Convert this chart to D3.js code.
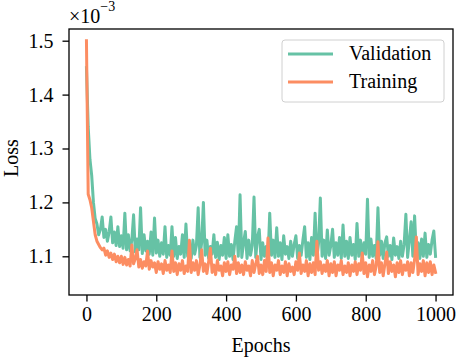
<!DOCTYPE html>
<html><head><meta charset="utf-8">
<script src="https://cdn.jsdelivr.net/npm/d3@7"></script>
<style>body{margin:0;background:#fff}svg{display:block}text{font-family:"Liberation Serif","Times New Roman",serif;fill:#000}</style>
</head><body><svg id="c" width="457" height="357"></svg>
<script>
// epochs sampled every 5 epochs, 0..1000
const epochStep = 5;
const xTicks = [0, 200, 400, 600, 800, 1000];
const yTicks = [1.1, 1.2, 1.3, 1.4, 1.5];
const seriesNames = ["Validation", "Training"];
const seriesColors = ["#66c2a5", "#fc8d62"];
// values in units of 1e-3
const validation = [
1.450,1.340,1.280,1.250,1.200,1.170,1.160,1.140,1.150,1.173,
1.135,1.150,1.128,1.145,1.173,1.125,1.145,1.120,1.155,1.118,
1.138,1.115,1.180,1.112,1.140,1.110,1.130,1.177,1.108,1.132,
1.112,1.190,1.105,1.140,1.110,1.128,1.104,1.145,1.102,1.171,
1.106,1.130,1.100,1.125,1.104,1.155,1.098,1.120,1.102,1.155,
1.100,1.135,1.096,1.118,1.104,1.140,1.098,1.160,1.100,1.125,
1.096,1.130,1.104,1.120,1.190,1.098,1.125,1.200,1.102,1.130,
1.096,1.118,1.104,1.140,1.098,1.126,1.094,1.120,1.102,1.135,
1.096,1.140,1.100,1.122,1.094,1.128,1.155,1.100,1.214,1.098,
1.125,1.146,1.096,1.130,1.102,1.120,1.210,1.098,1.135,1.150,
1.094,1.125,1.100,1.118,1.096,1.180,1.102,1.130,1.098,1.153,
1.100,1.125,1.094,1.138,1.104,1.118,1.096,1.128,1.100,1.122,
1.138,1.096,1.120,1.102,1.130,1.155,1.098,1.125,1.094,1.135,
1.102,1.180,1.098,1.125,1.208,1.100,1.130,1.096,1.149,1.102,
1.120,1.150,1.098,1.125,1.102,1.135,1.096,1.158,1.100,1.128,
1.096,1.135,1.102,1.122,1.094,1.161,1.100,1.130,1.096,1.125,
1.104,1.206,1.098,1.132,1.100,1.120,1.096,1.190,1.102,1.128,
1.096,1.125,1.136,1.100,1.120,1.094,1.134,1.102,1.118,1.096,
1.128,1.100,1.122,1.178,1.098,1.130,1.164,1.100,1.175,1.104,
1.125,1.096,1.132,1.100,1.143,1.098,1.122,1.104,1.130,1.147,
1.100];
const training = [
1.500,1.215,1.205,1.190,1.165,1.140,1.128,1.122,1.116,1.112,
1.115,1.102,1.110,1.098,1.106,1.094,1.104,1.090,1.100,1.088,
1.100,1.085,1.098,1.084,1.094,1.082,1.121,1.086,1.096,1.112,
1.080,1.094,1.078,1.090,1.082,1.110,1.076,1.092,1.080,1.088,
1.070,1.090,1.076,1.086,1.068,1.092,1.074,1.084,1.070,1.110,
1.072,1.088,1.066,1.086,1.074,1.092,1.068,1.082,1.072,1.130,
1.070,1.088,1.074,1.092,1.066,1.084,1.112,1.072,1.086,1.068,
1.090,1.115,1.070,1.084,1.066,1.092,1.074,1.082,1.064,1.088,
1.072,1.090,1.066,1.084,1.076,1.100,1.068,1.088,1.070,1.084,
1.066,1.090,1.074,1.082,1.064,1.092,1.070,1.086,1.100,1.068,
1.084,1.066,1.092,1.072,1.134,1.070,1.088,1.064,1.084,1.074,
1.092,1.066,1.082,1.070,1.090,1.064,1.086,1.072,1.080,1.066,
1.090,1.074,1.106,1.068,1.084,1.072,1.092,1.064,1.086,1.070,
1.088,1.066,1.128,1.074,1.090,1.068,1.084,1.072,1.092,1.064,
1.086,1.070,1.090,1.064,1.084,1.074,1.092,1.066,1.082,1.070,
1.088,1.064,1.084,1.072,1.090,1.066,1.086,1.074,1.106,1.068,
1.088,1.062,1.084,1.072,1.092,1.066,1.082,1.127,1.070,1.088,
1.064,1.086,1.108,1.068,1.090,1.072,1.084,1.062,1.088,1.070,
1.092,1.066,1.084,1.074,1.090,1.064,1.088,1.070,1.094,1.136,
1.066,1.086,1.072,1.092,1.064,1.088,1.070,1.090,1.066,1.084,
1.070];

const svg = d3.select("#c");
const L = 69, R = 453, T = 29, B = 295;
const x = d3.scaleLinear().domain([-50, 1050]).range([L, R]);
const y = d3.scaleLinear().domain([1.0282, 1.5217]).range([B, T]);
const FS = 20;

const line = d3.line().x((d, i) => x(i * epochStep)).y(d => y(d));
svg.append("clipPath").attr("id", "pc").append("rect")
  .attr("x", L).attr("y", T).attr("width", R - L).attr("height", B - T);
const g = svg.append("g").attr("clip-path", "url(#pc)");
[validation, training].forEach((s, k) => {
  g.append("path").datum(s).attr("d", line).attr("fill", "none")
    .attr("stroke", seriesColors[k]).attr("stroke-width", 3)
    .attr("stroke-linejoin", "round").attr("stroke-linecap", "square");
});

const xAxis = svg.append("g").attr("transform", `translate(0,${B})`)
  .call(d3.axisBottom(x).tickValues(xTicks).tickSize(6.5).tickPadding(5).tickFormat(d3.format("d")));
const yAxis = svg.append("g").attr("transform", `translate(${L},0)`)
  .call(d3.axisLeft(y).tickValues(yTicks).tickSize(6.5).tickPadding(9).tickFormat(d3.format(".1f")));
[xAxis, yAxis].forEach(a => {
  a.select(".domain").remove();
  a.selectAll(".tick line").attr("stroke", "#000").attr("stroke-width", 1.3);
  a.selectAll(".tick text").attr("font-size", FS).attr("font-family", "Liberation Serif");
});
svg.append("rect").attr("x", L).attr("y", T).attr("width", R - L).attr("height", B - T)
  .attr("fill", "none").attr("stroke", "#000").attr("stroke-width", 1.3);

// multiplier
const m = svg.append("text").attr("x", L).attr("y", 23).attr("font-size", FS);
m.append("tspan").text("×10");
m.append("tspan").attr("dy", -12).attr("font-size", 14).text("−3");

svg.append("text").attr("x", 261).attr("y", 352).attr("text-anchor", "middle")
  .attr("font-size", FS).text("Epochs");
svg.append("text").attr("transform", `translate(17.5,158) rotate(-90)`)
  .attr("text-anchor", "middle").attr("font-size", FS).text("Loss");

// legend
const lg = svg.append("g");
lg.append("rect").attr("x", 282).attr("y", 40).attr("width", 162).attr("height", 62).attr("rx", 3)
  .attr("fill", "#fff").attr("fill-opacity", 0.8).attr("stroke", "#d0d0d0").attr("stroke-width", 1);
seriesNames.forEach((n, k) => {
  const yy = 54 + k * 28;
  lg.append("line").attr("x1", 288).attr("x2", 333).attr("y1", yy).attr("y2", yy)
    .attr("stroke", seriesColors[k]).attr("stroke-width", 3);
  lg.append("text").attr("x", 349).attr("y", yy + 6).attr("font-size", FS).text(n);
});
</script></body></html>
